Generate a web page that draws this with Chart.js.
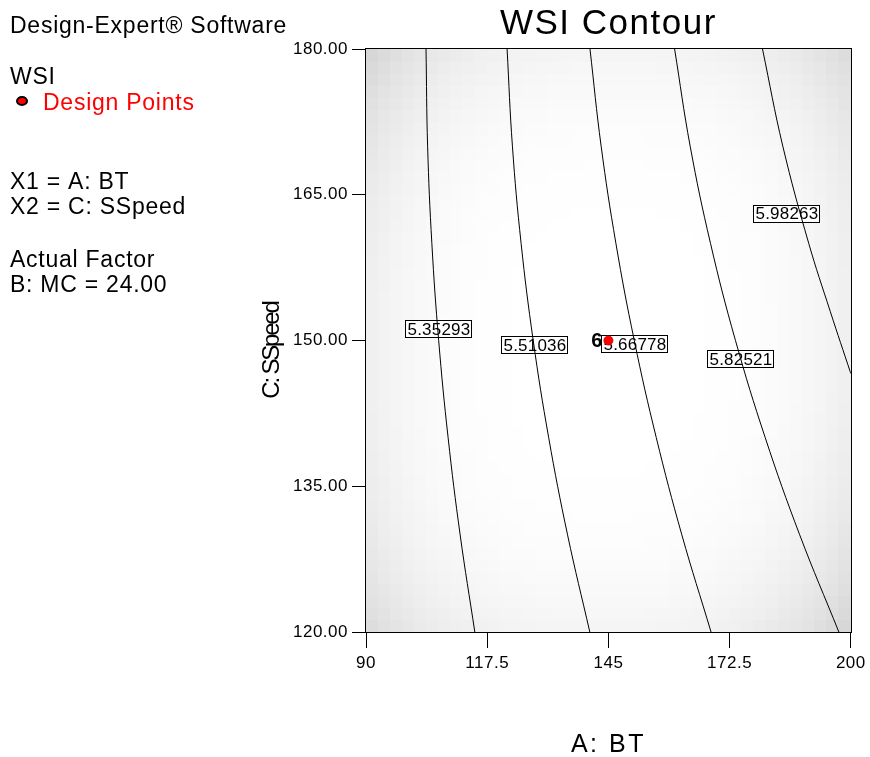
<!DOCTYPE html>
<html>
<head>
<meta charset="utf-8">
<script src="https://cdn.jsdelivr.net/npm/chart.js@4.4.1/dist/chart.umd.min.js"></script>
<style>
  html, body { margin: 0; padding: 0; background: #fff; }
  canvas { display: block; }
</style>
</head>
<body>
<canvas id="c" width="870" height="757"></canvas>
<script>
const FONT = '"Liberation Sans", Arial, Helvetica, sans-serif';

// Contour levels of the WSI response surface
const contourLevels = [5.35293, 5.51036, 5.66778, 5.82521, 5.98263];

// Contour paths: A: BT value at each C: SSpeed value, from top to bottom
const ssRows = [180, 170, 160, 150, 140, 130, 120];
const contour1BT = [103.62, 103.98, 104.94, 106.49, 108.63, 111.36, 114.69];
const contour2BT = [122.01, 123.22, 125.19, 127.94, 131.45, 135.73, 140.78];
const contour3BT = [140.82, 143.35, 146.70, 150.87, 155.86, 161.66, 168.29];
const contour4BT = [160.02, 163.55, 168.16, 173.83, 180.58, 188.40, 197.29];
// the last contour leaves the plot through the right edge
const contour5BT = [179.96, 184.57, 190.45, 195.33, 200.0];
const contour5SS = [180, 170, 160, 153, 146.6];

// Where each contour value label is placed
const labelBT = [106.3, 128.2, 150.8, 174.9, 185.4];
const labelSS = [151.2, 149.6, 149.7, 148.1, 163.1];

// Design point (centre point with 6 replicates)
const designBT = [145];
const designSS = [150];
const designRuns = [6];

// Axis ticks
const xTickValues = [90, 117.5, 145, 172.5, 200];
const yTickValues = [120, 135, 150, 165, 180];

const contourBT = [contour1BT, contour2BT, contour3BT, contour4BT, contour5BT];
const contourSS = [ssRows, ssRows, ssRows, ssRows, contour5SS];

const contourSets = contourLevels.map((lvl, k) => ({
  label: lvl.toFixed(5),
  data: contourBT[k].map((bt, i) => ({ x: bt, y: contourSS[k][i] })),
  borderColor: '#000',
  borderWidth: 1,
  pointRadius: 0,
  fill: false,
  tension: 0.4
}));

const designSet = {
  label: 'Design Points',
  data: designBT.map((bt, i) => ({ x: bt, y: designSS[i] })),
  showLine: false,
  pointRadius: 4.5,
  pointBackgroundColor: '#ff0000',
  pointBorderColor: '#e00000',
  pointBorderWidth: 1
};

function drawText(ctx, s, x, y, o) {
  ctx.save();
  ctx.font = (o.weight || 'normal') + ' ' + o.size + 'px ' + FONT;
  ctx.fillStyle = o.color || '#000';
  ctx.textAlign = o.align || 'left';
  ctx.textBaseline = o.baseline || 'alphabetic';
  ctx.letterSpacing = (o.spacing || 0) + 'px';
  ctx.translate(x, y);
  if (o.rotate) ctx.rotate(o.rotate);
  ctx.fillText(s, 0, 0);
  ctx.restore();
}

// Grey shading of the plot region (darker toward the edges and corners)
const shadePlugin = {
  id: 'shade',
  beforeDraw(chart) {
    chart.ctx.letterSpacing = '0.5px';
  },
  beforeDatasetsDraw(chart) {
    const { ctx, scales: { x, y } } = chart;
    ctx.letterSpacing = '0px';
    const nx = 40, ny = 48;
    ctx.save();
    for (let i = 0; i < nx; i++) {
      for (let j = 0; j < ny; j++) {
        const bt0 = 90 + i * 110 / nx, bt1 = 90 + (i + 1) * 110 / nx;
        const ss0 = 120 + j * 60 / ny, ss1 = 120 + (j + 1) * 60 / ny;
        const u = ((bt0 + bt1) / 2 - 145) / 55;
        const w = ((ss0 + ss1) / 2 - 150) / 30;
        let s = 0.55 * Math.pow(u, 4) + 0.35 * Math.pow(w, 4) + 0.45 * u * u * w * w - 0.12 * u * w * Math.abs(u * w);
        s = Math.max(0, Math.min(1.4, s));
        const g = Math.round(255 - 30 * s);
        ctx.fillStyle = 'rgb(' + g + ',' + g + ',' + g + ')';
        const px0 = Math.floor(x.getPixelForValue(bt0));
        const px1 = Math.ceil(x.getPixelForValue(bt1));
        const py0 = Math.floor(y.getPixelForValue(ss1));
        const py1 = Math.ceil(y.getPixelForValue(ss0));
        ctx.fillRect(px0, py0, px1 - px0, py1 - py0);
      }
    }
    ctx.restore();
  },
  beforeDatasetDraw(chart, args) {
    // contour value labels go under the design point marker
    if (args.index !== contourLevels.length) return;
    const { ctx, scales: { x, y } } = chart;
    ctx.save();
    ctx.font = '17px ' + FONT;
    ctx.letterSpacing = '0.2px';
    contourLevels.forEach((lvl, k) => {
      const txt = lvl.toFixed(5);
      const cx = x.getPixelForValue(labelBT[k]);
      const cy = y.getPixelForValue(labelSS[k]);
      const tw = ctx.measureText(txt).width;
      const bw = Math.round(tw + 3), bh = 17;
      const bx = Math.round(cx - bw / 2) + 0.5, by = Math.round(cy - bh / 2) + 0.5;
      ctx.fillStyle = '#fff';
      ctx.fillRect(bx, by, bw, bh);
      ctx.strokeStyle = '#000';
      ctx.lineWidth = 1;
      ctx.strokeRect(bx, by, bw, bh);
      ctx.fillStyle = '#000';
      ctx.textAlign = 'left';
      ctx.textBaseline = 'middle';
      ctx.fillText(txt, bx + 2, cy + 1.5);
    });
    // replicate count next to the design point
    designBT.forEach((bt, i) => {
      const px = x.getPixelForValue(bt), py = y.getPixelForValue(designSS[i]);
      drawText(ctx, String(designRuns[i]), px - 6, py + 6, { size: 20, weight: 'bold', align: 'right' });
    });
    ctx.restore();
  },
  afterDraw(chart) {
    const { ctx, chartArea: a } = chart;
    ctx.save();
    ctx.letterSpacing = '0px';
    ctx.strokeStyle = '#000';
    ctx.lineWidth = 1;
    ctx.strokeRect(Math.round(a.left) - 0.5, Math.round(a.top) - 0.5, Math.round(a.right - a.left) + 1, Math.round(a.bottom - a.top) + 1);
    ctx.restore();

    const cx = (a.left + a.right) / 2;
    const cy = (a.top + a.bottom) / 2;
    drawText(ctx, 'WSI Contour', cx, 34, { size: 35, spacing: 1.5, align: 'center' });
    drawText(ctx, 'A: BT', cx, 752, { size: 25, spacing: 2.5, align: 'center' });
    drawText(ctx, 'C: SSpeed', 272, cy + 10, { size: 24, spacing: -2.2, align: 'center', baseline: 'middle', rotate: -Math.PI / 2 });

    const side = { size: 23, spacing: 0.75 };
    drawText(ctx, 'Design-Expert® Software', 10, 33, side);
    drawText(ctx, 'WSI', 10, 84, side);
    drawText(ctx, 'Design Points', 43, 110, Object.assign({}, side, { color: '#ff0000' }));
    drawText(ctx, 'X1 = A: BT', 10, 189, side);
    drawText(ctx, 'X2 = C: SSpeed', 10, 214, side);
    drawText(ctx, 'Actual Factor', 10, 267, side);
    drawText(ctx, 'B: MC = 24.00', 10, 292, side);

    ctx.save();
    ctx.beginPath();
    ctx.ellipse(22, 101, 5, 4, 0, 0, Math.PI * 2);
    ctx.fillStyle = '#ff0000';
    ctx.fill();
    ctx.lineWidth = 2;
    ctx.strokeStyle = '#000';
    ctx.stroke();
    ctx.restore();
  }
};

new Chart(document.getElementById('c'), {
  type: 'line',
  data: { datasets: [...contourSets, designSet] },
  options: {
    responsive: false,
    devicePixelRatio: 1,
    animation: false,
    layout: { padding: { left: 250, right: 17, top: 49, bottom: 0 } },
    plugins: { legend: { display: false }, tooltip: { enabled: false }, title: { display: false } },
    scales: {
      x: {
        type: 'linear',
        min: 90, max: 200,
        afterBuildTicks: s => { s.ticks = xTickValues.map(v => ({ value: v })); },
        afterFit: s => { s.height = 125; },
        ticks: { color: '#000', font: { family: FONT, size: 17 }, padding: 5, maxRotation: 0, autoSkip: false, callback: v => String(v) },
        grid: { drawOnChartArea: false, drawTicks: true, tickLength: 16, color: '#000', lineWidth: 1 },
        border: { display: false }
      },
      y: {
        type: 'linear',
        min: 120, max: 180,
        afterBuildTicks: s => { s.ticks = yTickValues.map(v => ({ value: v })); },
        afterFit: s => { s.width = 116; },
        ticks: { color: '#000', font: { family: FONT, size: 17 }, padding: 4, autoSkip: false, callback: v => Number(v).toFixed(2) },
        grid: { drawOnChartArea: false, drawTicks: true, tickLength: 14, color: '#000', lineWidth: 1 },
        border: { display: false }
      }
    }
  },
  plugins: [shadePlugin]
});
</script>
</body>
</html>
